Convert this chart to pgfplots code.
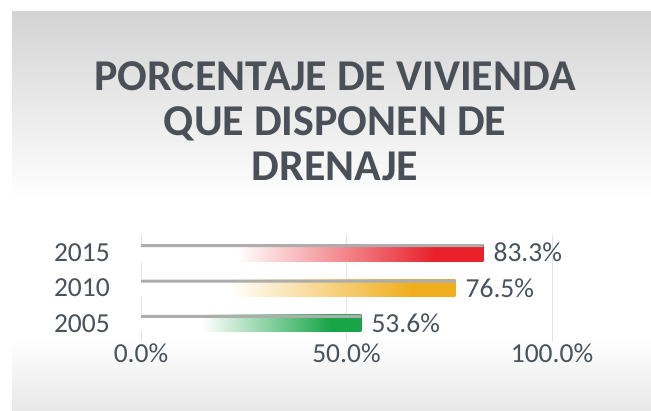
\documentclass[border=0pt]{standalone}
\usepackage{pgfplots}
\pgfplotsset{compat=1.18}
\usepackage{fontspec}
\setmainfont{Carlito}
\definecolor{myred}{HTML}{E8202A}
\definecolor{myorange}{HTML}{F0AE1E}
\definecolor{mygreen}{HTML}{17A548}
\definecolor{titlecol}{HTML}{4B5058}
\definecolor{labcol}{HTML}{4A535C}
\pgfdeclarehorizontalshading{redbar}{100bp}{color(0bp)=(white); color(39bp)=(white); color(68bp)=(myred); color(100bp)=(myred)}
\pgfdeclarehorizontalshading{orangebar}{100bp}{color(0bp)=(white); color(39bp)=(white); color(68bp)=(myorange); color(100bp)=(myorange)}
\pgfdeclarehorizontalshading{greenbar}{100bp}{color(0bp)=(white); color(39bp)=(white); color(68bp)=(mygreen); color(100bp)=(mygreen)}
\newcommand{\lab}{\fontsize{27.5bp}{32bp}\selectfont}
\begin{document}
\begin{tikzpicture}[x=1bp,y=1bp]
\fill[white] (0,0) rectangle (651,410);
\shade[top color=black!17, bottom color=white] (12,210) rectangle (651,398);
\shade[top color=white, bottom color=black!9] (12,0) rectangle (651,72);
\begin{scope}[every node/.style={anchor=base, text=titlecol, font=\fontsize{44bp}{46bp}\selectfont\bfseries}]
\node at (335,320) {PORCENTAJE DE VIVIENDA};
\node at (335,275) {QUE DISPONEN DE};
\node at (335,230) {DRENAJE};
\end{scope}
\begin{axis}[
  at={(141bp,69bp)}, anchor=south west, scale only axis,
  width=411bp, height=106bp,
  xmin=0, xmax=100, ymin=-0.5, ymax=2.5,
  xtick={0,50,100}, xticklabels={0.0\%,50.0\%,100.0\%},
  ytick={0,1,2}, yticklabels={2005,2010,2015},
  major tick length=0pt,
  axis line style={draw=none},
  xmajorgrids, ymajorgrids=false,
  grid style={black!11, line width=0.8bp},
  tick label style={font=\lab, text=labcol, inner sep=0pt},
  xticklabel style={yshift=-3bp},
  yticklabel style={xshift=-31bp},
  /pgf/number format/assume math mode=true,
  nodes near coords={\pgfmathprintnumber[fixed,fixed zerofill,precision=1]{\pgfplotspointmeta}\%},
  nodes near coords style={anchor=west, inner sep=0pt, xshift=10bp, font=\lab, text=labcol},
  point meta=x,
]
\addplot[xbar, bar width=17bp, bar shift=0pt, shade, shading=greenbar, draw=none] coordinates {(53.6,0)};
\addplot[xbar, bar width=17bp, bar shift=0pt, shade, shading=orangebar, draw=none] coordinates {(76.5,1)};
\addplot[xbar, bar width=17bp, bar shift=0pt, shade, shading=redbar, draw=none] coordinates {(83.3,2)};
\addplot[xbar, bar width=3bp, bar shift=7bp, fill=black!32, draw=none, nodes near coords={}] coordinates {(83.3,2) (76.5,1) (53.6,0)};
\end{axis}
\pgfresetboundingbox
\useasboundingbox (0,0) rectangle (651,410);
\end{tikzpicture}
\end{document}
